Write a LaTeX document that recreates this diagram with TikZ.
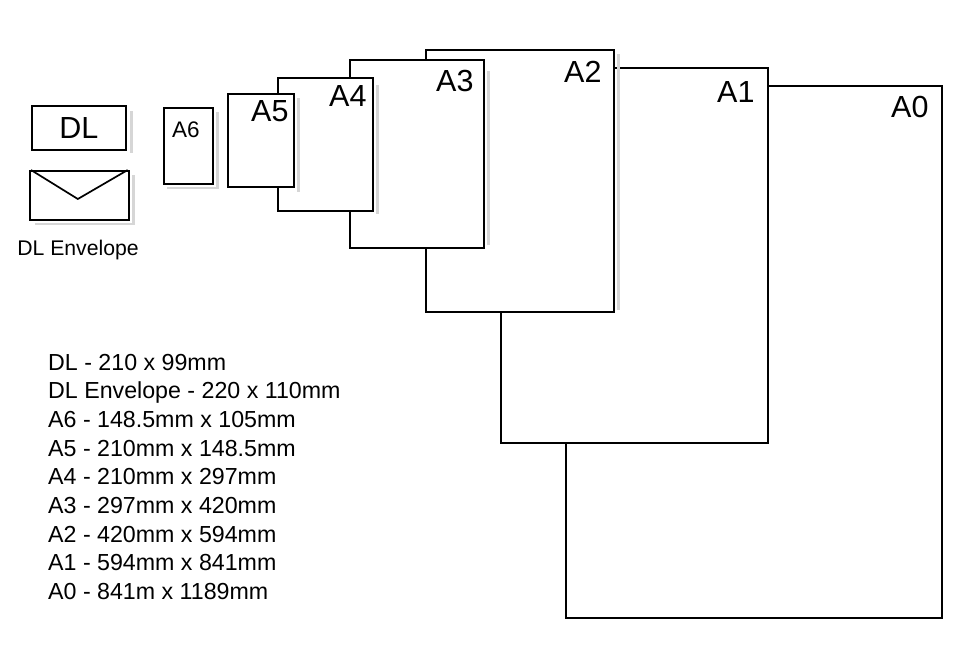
\documentclass[tikz,border=0pt]{standalone}
\usepackage{fontspec}
\setmainfont{Liberation Sans}
\usetikzlibrary{calc}
\begin{document}
\begin{tikzpicture}[x=1pt,y=-1pt,
  paper/.style={draw=black, fill=white, line width=1.7pt, inner sep=0pt, anchor=north west},
  shd/.style={fill=black!16},
  big/.style={font=\fontsize{30.5}{30}\selectfont, inner sep=0pt, anchor=base east},
  lst/.style={font=\fontsize{23.2}{26}\selectfont, inner sep=0pt, anchor=base west}]
\useasboundingbox[fill=white] (0,0) rectangle (974,650);
% A0
\node[paper, minimum width=376pt, minimum height=532pt] (a0) at (565,85) {};
\node[big] (ta0) at ($(a0.north east)+(-14,33)$) {A0};
% A1
\node[paper, minimum width=267pt, minimum height=375pt] (a1) at (500,67) {};
\node[big] (ta1) at ($(a1.north east)+(-14,36)$) {A1};
% A2
\node[paper, minimum width=188pt, minimum height=262pt] (a2) at (425,49) {};
\fill[shd] ($(a2.north east)+(2,5)$) rectangle ($(a2.south east)+(5,-3)$);
\node[big] (ta2) at ($(a2.north east)+(-13,34)$) {A2};
% A3
\node[paper, minimum width=134pt, minimum height=188pt] (a3) at (349,59) {};
\fill[shd] ($(a3.north east)+(2,12)$) rectangle ($(a3.south east)+(5,-4)$);
\node[big] (ta3) at ($(a3.north east)+(-11,33)$) {A3};
% A4
\node[paper, minimum width=95pt, minimum height=133pt] (a4) at (277,77) {};
\fill[shd] ($(a4.north east)+(2,8)$) rectangle ($(a4.south east)+(5,2)$);
\node[big] (ta4) at ($(a4.north east)+(-7,30)$) {A4};
% A5
\node[paper, minimum width=66pt, minimum height=93pt] (a5) at (227,93) {};
\fill[shd] ($(a5.north east)+(2,5)$) rectangle ($(a5.south east)+(5,4)$);
\node[big] (ta5) at ($(a5.north east)+(-6,29)$) {A5};
% A6
\node[paper, minimum width=49pt, minimum height=76pt] (a6) at (163,107) {};
\fill[shd] ($(a6.north east)+(2,5)$) rectangle ($(a6.south east)+(5,4)$);
\fill[shd] ($(a6.south west)+(4,2)$) rectangle ($(a6.south east)+(5,4)$);
\node[font=\fontsize{22.5}{22}\selectfont, inner sep=0pt, anchor=base west] (ta6) at ($(a6.north west)+(9,31)$) {A6};
% DL
\node[paper, minimum width=94pt, minimum height=44pt] (dl) at (31,105) {};
\fill[shd] ($(dl.north east)+(3,6)$) rectangle ($(dl.south east)+(6,2)$);
\node[font=\fontsize{30.5}{30}\selectfont, inner sep=0pt, anchor=base] (tdl) at ($(dl.center)+(0,11)$) {DL};
% Envelope
\node[paper, minimum width=99pt, minimum height=49pt] (env) at (29,170) {};
\fill[shd] ($(env.north east)+(2,5)$) rectangle ($(env.south east)+(5,4)$);
\fill[shd] ($(env.south west)+(6,2)$) rectangle ($(env.south east)+(5,4)$);
\coordinate (vtip) at ($(env.north west)!0.485!(env.north east)+(0,29)$);
\draw[line width=1.7pt, line join=miter] ($(env.north west)+(2,0)$) -- (vtip) -- ($(env.north east)+(-2,0)$);
\node[font=\fontsize{21.2}{22}\selectfont, inner sep=0pt, anchor=base] (tenv) at (78,255) {DL Envelope};
% list
\node[lst] (l1) at (48,370) {DL - 210 x 99mm};
\node[lst] (l2) at (48,398.7) {DL Envelope - 220 x 110mm};
\node[lst] (l3) at (48,427.4) {A6 - 148.5mm x 105mm};
\node[lst] (l4) at (48,456.1) {A5 - 210mm x 148.5mm};
\node[lst] (l5) at (48,484.8) {A4 - 210mm x 297mm};
\node[lst] (l6) at (48,513.5) {A3 - 297mm x 420mm};
\node[lst] (l7) at (48,542.2) {A2 - 420mm x 594mm};
\node[lst] (l8) at (48,570.9) {A1 - 594mm x 841mm};
\node[lst] (l9) at (48,599.6) {A0 - 841m x 1189mm};
\end{tikzpicture}
\end{document}
